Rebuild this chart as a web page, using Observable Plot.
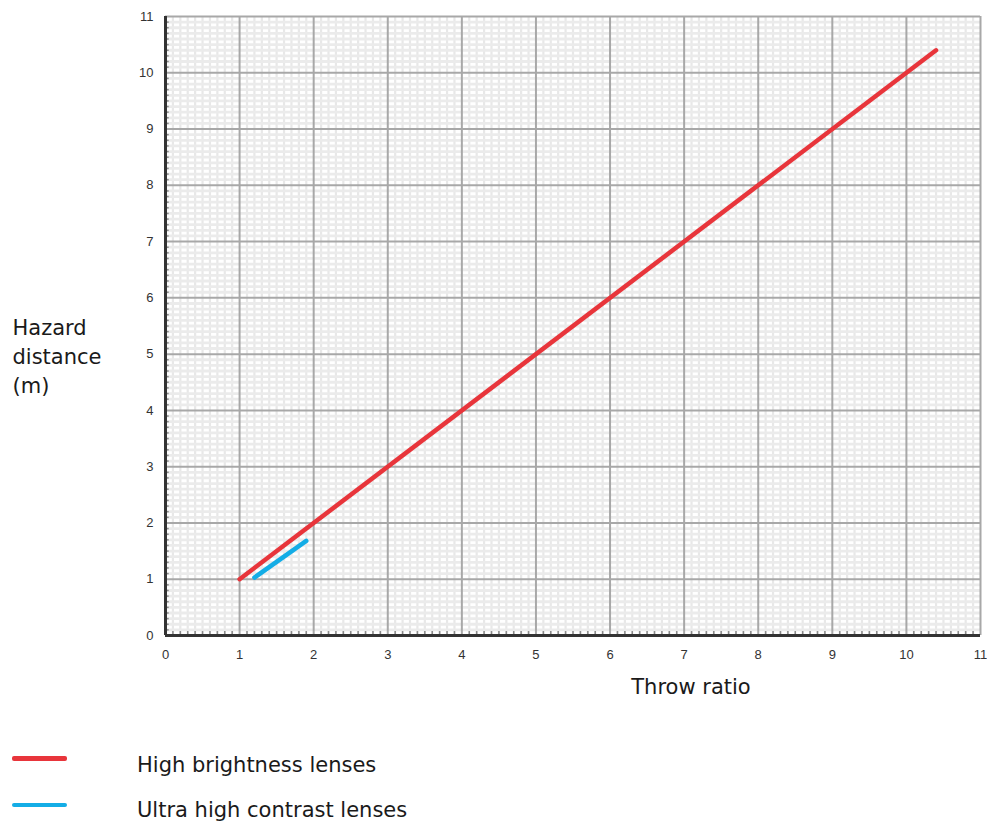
<!DOCTYPE html>
<html>
<head>
<meta charset="utf-8">
<script src="https://cdn.jsdelivr.net/npm/d3@7"></script>
<script src="https://cdn.jsdelivr.net/npm/@observablehq/plot@0.6"></script>
<style>
  body { margin: 0; background: white; overflow: hidden; }
  #wrap { position: relative; width: 987px; height: 823px; }
  .leg { position: absolute; left: 0; font-family: "DejaVu Sans", Verdana, sans-serif; font-size: 21px; color: #1a1a1a; }
  .sw { position: absolute; left: 12px; width: 55px; border-radius: 2px; }
  .lt { position: absolute; left: 137px; white-space: nowrap; line-height: 1; }
</style>
</head>
<body>
<div id="wrap"></div>
<script>
// ---- data ----
const seriesNames = ["High brightness lenses", "Ultra high contrast lenses"];
const seriesColors = ["#e8353b", "#14ade6"];
const highBrightnessX = [1, 10.4];
const highBrightnessY = [1, 10.4];
const ultraContrastX = [1.2, 1.9];
const ultraContrastY = [1.03, 1.68];
const xTicks = [0, 1, 2, 3, 4, 5, 6, 7, 8, 9, 10, 11];
const yTicks = [0, 1, 2, 3, 4, 5, 6, 7, 8, 9, 10, 11];
const xLabel = "Throw ratio";
const yLabel = "Hazard\ndistance\n(m)";

const minorX = d3.range(0, 111).map(i => i / 10).filter(v => Math.abs(v - Math.round(v)) > 1e-9);
const minorY = minorX.slice();

const hb = highBrightnessX.map((x, i) => ({x, y: highBrightnessY[i]}));
const uc = ultraContrastX.map((x, i) => ({x, y: ultraContrastY[i]}));

const chart = Plot.plot({
  width: 987,
  height: 715,
  marginLeft: 165,
  marginRight: 7,
  marginTop: 16,
  marginBottom: 80,
  x: {domain: [0, 11]},
  y: {domain: [0, 11]},
  style: {fontFamily: "'Liberation Sans', Arial, sans-serif", fontSize: "13px", background: "white", color: "#333"},
  marks: [
    Plot.frame({fill: "white", stroke: "none"}),
    Plot.ruleX(minorX, {stroke: "#e8e8e8", strokeWidth: 2.2}),
    Plot.ruleY(minorY, {stroke: "#ebebeb", strokeWidth: 2.8}),
    Plot.ruleX(xTicks, {stroke: "#a8a8a8", strokeWidth: 2}),
    Plot.ruleY(yTicks, {stroke: "#a8a8a8", strokeWidth: 2}),
    Plot.ruleY(minorY, {x1: 0, x2: 0.05, stroke: "#888", strokeWidth: 1.5}),
    Plot.ruleX(minorX, {y1: 0, y2: 0.07, stroke: "#888", strokeWidth: 1.5}),
    Plot.ruleX([0], {stroke: "#333", strokeWidth: 3}),
    Plot.ruleY([0], {stroke: "#333", strokeWidth: 3}),
    Plot.line(hb, {x: "x", y: "y", stroke: seriesColors[0], strokeWidth: 4.5, strokeLinecap: "round"}),
    Plot.line(uc, {x: "x", y: "y", stroke: seriesColors[1], strokeWidth: 4.5, strokeLinecap: "round"}),
    Plot.axisX({ticks: xTicks, tickSize: 0, tickPadding: 14, label: null, fill: "#333"}),
    Plot.axisY({ticks: yTicks, tickSize: 0, tickPadding: 12, label: null, fill: "#333"}),
    Plot.text([xLabel], {frameAnchor: "bottom", dx: 118, dy: 58, text: d => d, fontSize: 21, fontFamily: "'DejaVu Sans', Verdana, sans-serif", fill: "#1a1a1a"}),
    Plot.text([yLabel], {frameAnchor: "left", textAnchor: "start", dx: -153, dy: 29, lineHeight: 1.38, text: d => d, fontSize: 21, fontFamily: "'DejaVu Sans', Verdana, sans-serif", fill: "#1a1a1a"})
  ]
});

const wrap = document.getElementById("wrap");
wrap.appendChild(chart);

const legendRows = [
  {name: seriesNames[0], color: seriesColors[0], sy: 756, th: 5, ty: 755},
  {name: seriesNames[1], color: seriesColors[1], sy: 803, th: 3.5, ty: 800}
];
for (const r of legendRows) {
  const sw = document.createElement("div");
  sw.className = "sw";
  sw.style.top = r.sy + "px";
  sw.style.height = r.th + "px";
  sw.style.background = r.color;
  wrap.appendChild(sw);
  const t = document.createElement("div");
  t.className = "leg lt";
  t.style.top = r.ty + "px";
  t.textContent = r.name;
  wrap.appendChild(t);
}
</script>
</body>
</html>
